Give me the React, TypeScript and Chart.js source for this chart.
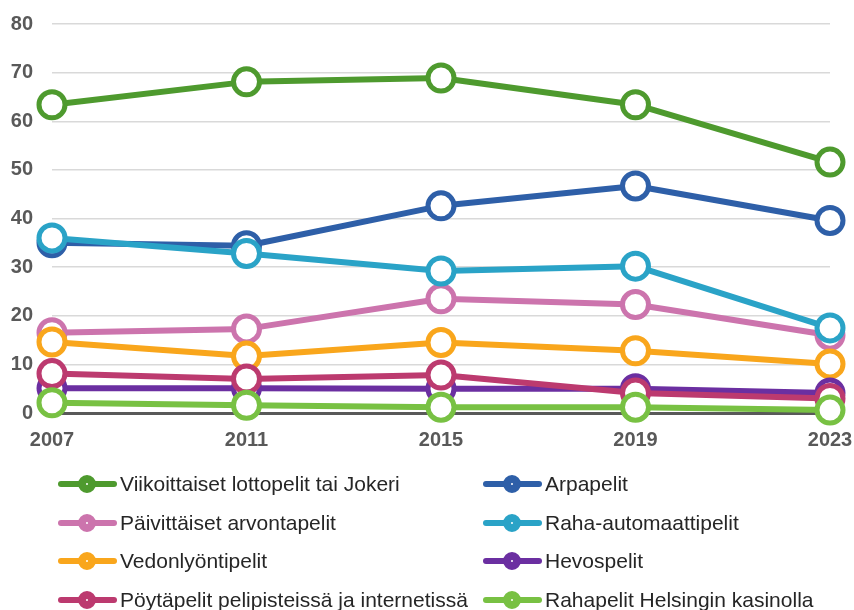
import React, { useEffect, useRef } from "react";
import { Chart, registerables } from "chart.js";

Chart.register(...registerables);

const years = ["2007", "2011", "2015", "2019", "2023"];
const seriesNames = [
  "Viikoittaiset lottopelit tai Jokeri",
  "Arpapelit",
  "Päivittäiset arvontapelit",
  "Raha-automaattipelit",
  "Vedonlyöntipelit",
  "Hevospelit",
  "Pöytäpelit pelipisteissä ja internetissä",
  "Rahapelit Helsingin kasinolla",
];
const viikoittaiset = [63.4, 68.1, 68.9, 63.4, 51.6];
const arpapelit = [35.0, 34.4, 42.6, 46.7, 39.6];
const paivittaiset = [16.5, 17.3, 23.5, 22.3, 16.0];
const rahaAutomaatti = [36.0, 32.8, 29.2, 30.2, 17.5];
const vedonlyonti = [14.6, 11.7, 14.5, 12.8, 10.1];
const hevospelit = [5.1, 5.1, 5.0, 5.0, 4.1];
const poytapelit = [8.1, 7.0, 7.8, 4.1, 3.0];
const helsinkiKasino = [2.1, 1.6, 1.2, 1.2, 0.6];
const yTicks = [0, 10, 20, 30, 40, 50, 60, 70, 80];

const seriesValues = [
  viikoittaiset,
  arpapelit,
  paivittaiset,
  rahaAutomaatti,
  vedonlyonti,
  hevospelit,
  poytapelit,
  helsinkiKasino,
];
const colors = [
  "#4E9A2E",
  "#2E5FA8",
  "#CC74AD",
  "#2AA3C7",
  "#F9A61C",
  "#6B2FA1",
  "#BC3A6F",
  "#78C143",
];

const FONT = "'Liberation Sans', Arial, sans-serif";

export default function App() {
  const ref = useRef<HTMLCanvasElement>(null);
  useEffect(() => {
    const chart = new Chart(ref.current!, {
      type: "line",
      data: {
        labels: years,
        datasets: seriesValues.map((vals, i) => ({
          label: seriesNames[i],
          data: vals,
          borderColor: colors[i],
          backgroundColor: colors[i],
          borderWidth: 6,
          borderJoinStyle: "round" as const,
          borderCapStyle: "round" as const,
          pointRadius: 13,
          pointBorderWidth: 5,
          pointBackgroundColor: "#FFFFFF",
          pointBorderColor: colors[i],
          pointHoverRadius: 13,
          tension: 0,
          clip: false as any,
          order: seriesValues.length - i,
        })),
      },
      options: {
        responsive: false,
        animation: false,
        layout: { autoPadding: false, padding: { top: 24, right: 24, bottom: 157, left: 0 } },
        plugins: { legend: { display: false }, tooltip: { enabled: false } },
        scales: {
          x: {
            offset: false,
            grid: { display: false, drawTicks: false },
            border: { display: true, color: "#595959", width: 3 },
            ticks: {
              color: "#595959",
              font: { family: FONT, size: 20, weight: "bold" },
              padding: 15,
              maxRotation: 0,
            },
            afterFit: (s: any) => {
              s.height = 40;
              s.paddingLeft = 0;
              s.paddingRight = 0;
            },
          },
          y: {
            min: 0,
            max: 80,
            afterBuildTicks: (s: any) => {
              s.ticks = yTicks.map((v) => ({ value: v }));
            },
            grid: {
              color: "#D9D9D9",
              lineWidth: 1.5,
              drawTicks: false,
            },
            border: { display: false },
            ticks: {
              color: "#595959",
              font: { family: FONT, size: 20, weight: "bold" },
              padding: 19,
            },
            afterFit: (s: any) => {
              s.width = 52;
              s.paddingTop = 0;
              s.paddingBottom = 0;
            },
          },
        },
      },
    });
    return () => chart.destroy();
  }, []);

  const rowsY = [484, 523, 561, 600];
  return (
    <div style={{ position: "fixed", left: 0, top: 0, width: 854, height: 610, overflow: "hidden", background: "#fff" }}>
      <canvas ref={ref} width={854} height={610} style={{ position: "absolute", left: 0, top: 0 }} />
      {seriesNames.map((name, i) => {
        const col = i % 2;
        const row = Math.floor(i / 2);
        const x = col === 0 ? 58 : 483;
        const y = rowsY[row];
        return (
          <div
            key={name}
            style={{
              position: "absolute",
              left: x,
              top: y - 14,
              height: 28,
              display: "flex",
              alignItems: "center",
              whiteSpace: "nowrap",
            }}
          >
            <div style={{ position: "relative", width: 59, height: 28, marginRight: 3 }}>
              <div
                style={{
                  position: "absolute",
                  left: 0,
                  top: 11,
                  width: 59,
                  height: 6,
                  borderRadius: 3,
                  background: colors[i],
                }}
              />
              <div
                style={{
                  position: "absolute",
                  left: 20,
                  top: 5,
                  width: 18,
                  height: 18,
                  boxSizing: "border-box",
                  borderRadius: "50%",
                  border: `8px solid ${colors[i]}`,
                  background: "#fff",
                }}
              />
            </div>
            <span style={{ fontFamily: FONT, fontSize: 21, color: "#262626" }}>{name}</span>
          </div>
        );
      })}
    </div>
  );
}
